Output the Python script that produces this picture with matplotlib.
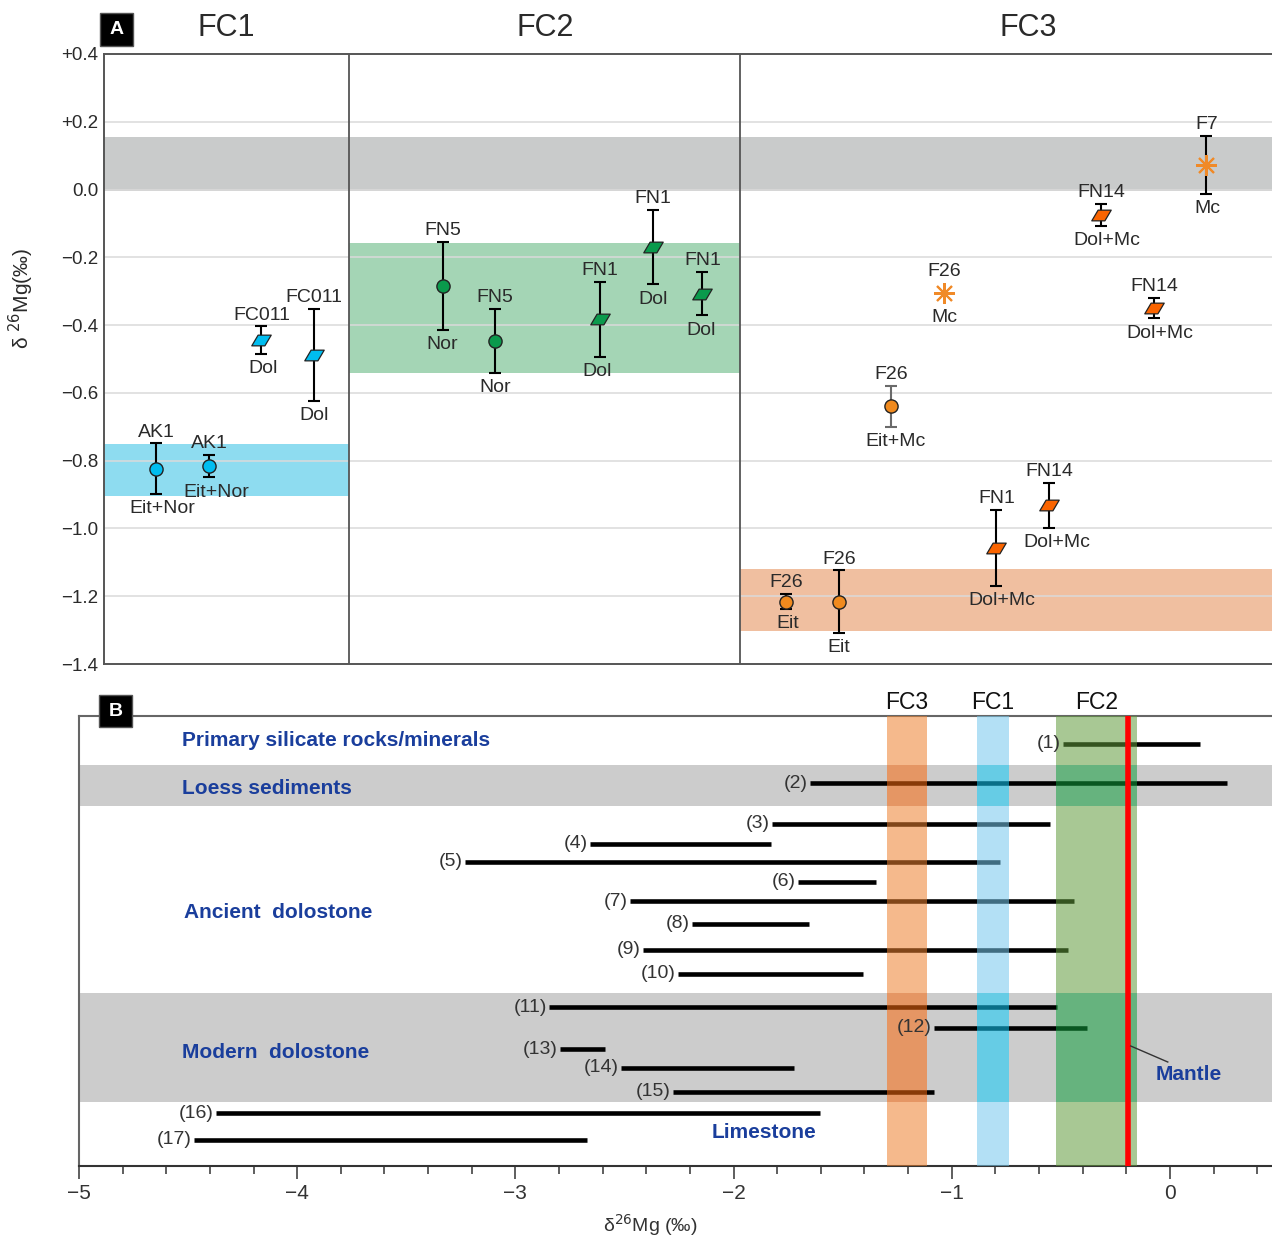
import matplotlib
matplotlib.use('Agg')
import matplotlib.pyplot as plt
from matplotlib.path import Path
from matplotlib.patches import Rectangle
from matplotlib.ticker import MultipleLocator, FixedLocator
import matplotlib.transforms as mtrans

plt.rcParams['font.family'] = ['Liberation Sans', 'DejaVu Sans']

# ------------------------- Panel A data -------------------------
group_names = ['FC1', 'FC2', 'FC3']
group_edges = [0.0, 4.667, 12.114, 22.25]      # slot boundaries of the three sections
group_title_x = [2.33, 8.4, 17.6]

# FC1
fc1_x = [1, 2, 3, 4]
fc1_val = [-0.824, -0.816, -0.444, -0.488]
fc1_err = [0.075, 0.033, 0.040, 0.135]
fc1_name = ['AK1', 'AK1', 'FC011', 'FC011']
fc1_min = ['Eit+Nor', 'Eit+Nor', 'Dol', 'Dol']
fc1_shape = ['circle', 'circle', 'para', 'para']

# FC2
fc2_x = [6.45, 7.45, 9.45, 10.45, 11.4]
fc2_val = [-0.285, -0.446, -0.383, -0.170, -0.307]
fc2_err = [0.130, 0.095, 0.110, 0.110, 0.064]
fc2_name = ['FN5', 'FN5', 'FN1', 'FN1', 'FN1']
fc2_min = ['Nor', 'Nor', 'Dol', 'Dol', 'Dol']
fc2_shape = ['circle', 'circle', 'para', 'para', 'para']

# FC3
fc3_x = [13, 14, 15, 16, 17, 18, 19, 20, 21]
fc3_val = [-1.216, -1.216, -0.640, -0.304, -1.058, -0.932, -0.075, -0.350, 0.073]
fc3_err = [0.022, 0.092, 0.060, 0.0, 0.112, 0.066, 0.032, 0.030, 0.085]
fc3_name = ['F26', 'F26', 'F26', 'F26', 'FN1', 'FN14', 'FN14', 'FN14', 'F7']
fc3_min = ['Eit', 'Eit', 'Eit+Mc', 'Mc', 'Dol+Mc', 'Dol+Mc', 'Dol+Mc', 'Dol+Mc', 'Mc']
fc3_shape = ['circle', 'circle', 'circle', 'star', 'para', 'para', 'para', 'para', 'star']

# horizontal reference bands (y ranges)
band_gray_A = (-0.005, 0.155)
band_fc1 = (-0.904, -0.751)
band_fc2 = (-0.540, -0.157)
band_fc3 = (-1.303, -1.120)

y_ticks_A = [0.4, 0.2, 0.0, -0.2, -0.4, -0.6, -0.8, -1.0, -1.2, -1.4]
y_ticklabels_A = ['+0.4', '+0.2', '0.0', '\u22120.2', '\u22120.4', '\u22120.6',
                  '\u22120.8', '\u22121.0', '\u22121.2', '\u22121.4']

# ------------------------- Panel B data -------------------------
row_labels = ['(%d)' % i for i in range(1, 18)]
row_lo = [-0.49, -1.65, -1.825, -2.66, -3.23, -1.706, -2.476, -2.19, -2.416,
          -2.256, -2.847, -1.082, -2.797, -2.517, -2.279, -4.374, -4.473]
row_hi = [0.14, 0.26, -0.55, -1.83, -0.78, -1.348, -0.44, -1.655, -0.468,
          -1.408, -0.518, -0.38, -2.588, -1.724, -1.082, -1.605, -2.673]
row_y = [28, 67, 108, 128, 146, 166, 185, 208, 234, 258, 291, 312, 333, 352,
         376, 397, 424]

gray_rows_B = [(49, 90), (277, 386)]
category_names = ['Primary silicate rocks/minerals', 'Loess sediments',
                  'Ancient  dolostone', 'Modern  dolostone']
category_x = [-4.53, -4.53, -4.52, -4.53]
category_y = [25, 72, 196, 337]

vband_names = ['FC3', 'FC1', 'FC2']
vband_lo = [-1.298, -0.885, -0.523]
vband_hi = [-1.114, -0.738, -0.151]
mantle_x = -0.19

# ------------------------- styles -------------------------
col_fc1 = '#00bdf0'
col_fc2 = '#0a9a4c'
col_fc3_circle = '#f08a1e'
col_fc3_para = '#fa6400'
col_fc3_star = '#f08a28'
text_col = '#2a2a2a'
blue_text = '#1a3e9c'
lab_fs = 14

# horizontal nudges (points) for the mineral labels below each point
fc1_dx = [4, 5, 1, 0]
fc2_dx = [0, 0, -2, 0, -1]
fc3_dx = [1, 0, 3, 0, 4, 6, 4, 4, 1]

para_path = Path([(-1.0, -0.55), (0.35, -0.55), (1.0, 0.55), (-0.35, 0.55), (-1.0, -0.55)],
                 [Path.MOVETO, Path.LINETO, Path.LINETO, Path.LINETO, Path.CLOSEPOLY])

fig = plt.figure(figsize=(12.72, 12.39), dpi=100)
W, H = 1272.0, 1239.0

def fbox(l, t, r, b):
    return [l / W, 1 - b / H, (r - l) / W, (b - t) / H]

# ========================= Panel A =========================
axA = fig.add_axes(fbox(104, 54, 1272, 664))
axA.set_xlim(group_edges[0], group_edges[-1])
axA.set_ylim(-1.4, 0.4)

axA.axhspan(band_gray_A[0], band_gray_A[1], color='#c9cbcb', zorder=1, lw=0)
axA.fill_between([group_edges[0], group_edges[1]], band_fc1[0], band_fc1[1],
                 color='#8edcf0', zorder=1, lw=0)
axA.fill_between([group_edges[1], group_edges[2]], band_fc2[0], band_fc2[1],
                 color='#a4d5b5', zorder=1, lw=0)
axA.fill_between([group_edges[2], group_edges[3]], band_fc3[0], band_fc3[1],
                 color='#f0bfa0', zorder=1, lw=0)

for yv in y_ticks_A[1:-1]:
    axA.axhline(yv, color='#dadada', lw=1.1, zorder=1.5)

for xe in group_edges[1:3]:
    axA.axvline(xe, color='#555555', lw=1.3, zorder=2)

axA.set_yticks(y_ticks_A)
axA.set_yticklabels(y_ticklabels_A, fontsize=13.5, color=text_col)
axA.tick_params(axis='y', length=0, pad=4)
axA.set_xticks([])
for s in ['left', 'top', 'bottom']:
    axA.spines[s].set_color('#555555')
    axA.spines[s].set_linewidth(1.4)
axA.spines['right'].set_visible(False)
axA.set_ylabel('\u03b4 $^{26}$Mg(\u2030)', fontsize=15, color=text_col)
axA.yaxis.set_label_coords(-0.058, 0.60)

titleT = mtrans.blended_transform_factory(axA.transData, axA.transAxes)
for name, tx in zip(group_names, group_title_x):
    axA.text(tx, 1.043, name, transform=titleT, ha='center', va='center',
             fontsize=22, color=text_col)


def draw_group(xs, vals, errs, names, mins, shapes, colors, dxs, ecol='black'):
    for i, (x, v, e, nm, mn, sh) in enumerate(zip(xs, vals, errs, names, mins, shapes)):
        c = colors[sh]
        if e > 0:
            axA.errorbar([x], [v], yerr=[e], fmt='none',
                         ecolor=ecol[i] if isinstance(ecol, list) else ecol,
                         elinewidth=1.5, capsize=4, capthick=1.5, zorder=3)
        if sh == 'circle':
            axA.plot([x], [v], marker='o', ms=9.5, mfc=c, mec='#222222', mew=1.0, zorder=4)
        elif sh == 'para':
            axA.plot([x], [v], marker=para_path, ms=14, mfc=c, mec='#222222', mew=0.9, zorder=4)
        else:
            axA.plot([x], [v], marker=(8, 2, 0), ms=15, mec=c, mfc=c, mew=1.5, zorder=4)
        top = v + e if e > 0 else v + 0.03
        bot = v - e if e > 0 else v - 0.03
        axA.annotate(nm, xy=(x, top), xytext=(0, 2.0), textcoords='offset points',
                     ha='center', va='bottom', fontsize=lab_fs, color=text_col, zorder=5)
        axA.annotate(mn, xy=(x, bot), xytext=(dxs[i], -4.5), textcoords='offset points',
                     ha='center', va='top', fontsize=lab_fs, color=text_col, zorder=5)

draw_group(fc1_x, fc1_val, fc1_err, fc1_name, fc1_min, fc1_shape,
           {'circle': col_fc1, 'para': col_fc1}, fc1_dx)
draw_group(fc2_x, fc2_val, fc2_err, fc2_name, fc2_min, fc2_shape,
           {'circle': col_fc2, 'para': col_fc2}, fc2_dx)
fc3_ecol = ['black', 'black', '#6a6a6a', 'black', 'black', 'black', 'black', 'black', 'black']
draw_group(fc3_x, fc3_val, fc3_err, fc3_name, fc3_min, fc3_shape,
           {'circle': col_fc3_circle, 'para': col_fc3_para, 'star': col_fc3_star},
           fc3_dx, ecol=fc3_ecol)

# ========================= Panel B =========================
axB = fig.add_axes(fbox(79, 716, 1272, 1166))
x_left = -5.0
x_right = 0.4677
axB.set_xlim(x_left, x_right)
axB.set_ylim(450, 0)

for lo, hi in gray_rows_B:
    axB.axhspan(lo, hi, color='#cccccc', lw=0, zorder=0.5)

for lo, hi, y, lab in zip(row_lo, row_hi, row_y, row_labels):
    axB.plot([lo, hi], [y, y], color='black', lw=3.3, solid_capstyle='butt', zorder=2)
    axB.annotate(lab, xy=(lo, y), xytext=(-1.5, 0), textcoords='offset points',
                 ha='right', va='center', fontsize=14, color='#333333', zorder=5)

vcol_white = ['#ed802e', '#75c7ed', '#619b3c']
vcol_gray = ['#fa6a0f', '#12ccfa', '#12a03e']
valpha = 0.55


def split_segments(y0, y1, grays):
    pts = sorted(set([y0, y1] + [v for b in grays for v in b]))
    out = []
    for a, b in zip(pts[:-1], pts[1:]):
        mid = 0.5 * (a + b)
        out.append((a, b, any(lo <= mid <= hi for lo, hi in grays)))
    return out

for lo, hi, cw, cg in zip(vband_lo, vband_hi, vcol_white, vcol_gray):
    for a, b, g in split_segments(0, 450, gray_rows_B):
        axB.add_patch(Rectangle((lo, a), hi - lo, b - a, facecolor=cg if g else cw,
                                alpha=valpha, lw=0, zorder=3))

axB.axvline(mantle_x, color='#ff0000', lw=4.0, zorder=4)
axB.plot([mantle_x + 0.01, -0.01], [330, 346], color='#333333', lw=1.0, zorder=4)
axB.text(0.085, 359, 'Mantle', ha='center', va='center', fontsize=15, fontweight='bold',
         color=blue_text, zorder=5)
axB.text(-1.862, 417, 'Limestone', ha='center', va='center', fontsize=15, fontweight='bold',
         color=blue_text, zorder=5)

for nm, cx, cy in zip(category_names, category_x, category_y):
    axB.text(cx, cy, nm, ha='left', va='center', fontsize=15, fontweight='bold',
             color=blue_text, zorder=5)

headT = mtrans.blended_transform_factory(axB.transData, axB.transAxes)
for nm, lo, hi in zip(vband_names, vband_lo, vband_hi):
    axB.text(0.5 * (lo + hi), 1.005, nm, transform=headT, ha='center', va='bottom',
             fontsize=16.5, color='#111111')

axB.xaxis.set_major_locator(FixedLocator([-5, -4, -3, -2, -1, 0]))
axB.set_xticklabels(['\u22125', '\u22124', '\u22123', '\u22122', '\u22121', '0'])
axB.xaxis.set_minor_locator(MultipleLocator(0.2))
axB.tick_params(axis='x', which='major', length=9, width=1.1, color='#333333',
                labelsize=15, labelcolor='#333333', pad=4)
axB.tick_params(axis='x', which='minor', length=6, width=1.1, color='#333333')
axB.set_yticks([])
axB.set_xlabel('\u03b4$^{26}$Mg (\u2030)', fontsize=14, color='#333333')
axB.xaxis.set_label_coords(0.4786, -0.102)
for s in ['left', 'top']:
    axB.spines[s].set_color('#666666')
    axB.spines[s].set_linewidth(1.5)
axB.spines['bottom'].set_color('#333333')
axB.spines['bottom'].set_linewidth(1.5)
axB.spines['right'].set_visible(False)

# panel letters
for lab, (l, t, r, b) in [('A', (100, 13, 133, 46)), ('B', (99, 695, 132, 727))]:
    fig.patches.append(Rectangle((l / W, 1 - b / H), (r - l) / W, (b - t) / H,
                                 transform=fig.transFigure, facecolor='black',
                                 edgecolor='#555555', lw=1, zorder=10))
    fig.text((l + r) / 2 / W, 1 - (t + b) / 2 / H, lab, ha='center', va='center',
             color='white', fontsize=14, fontweight='bold', zorder=11)

fig.savefig('out.png', dpi=100)
